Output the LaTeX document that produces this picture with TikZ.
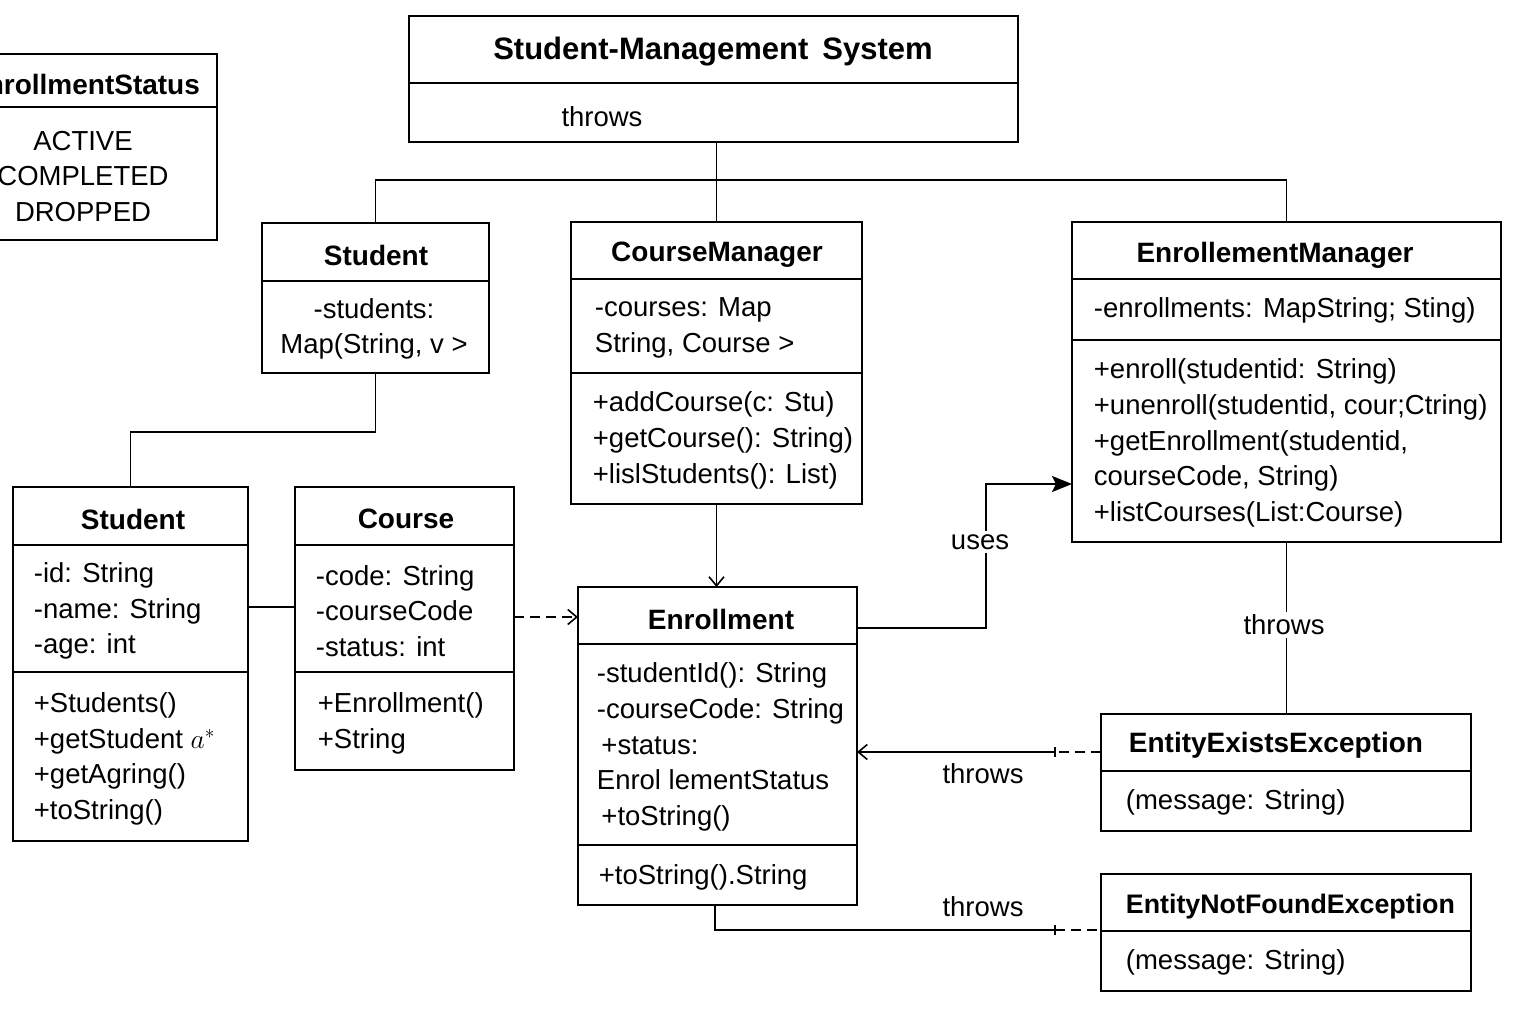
\RequirePackage{fix-cm}
\documentclass[tikz,border=0pt]{standalone}
\usepackage{fontspec}
\setmainfont{Liberation Sans}
\usetikzlibrary{arrows.meta}
\begin{document}
\begin{tikzpicture}[x=1pt,y=-1pt, line width=1.8pt,
 box/.style={draw, anchor=north west, inner sep=0pt, outer sep=0pt, line width=1.8pt},
 txt/.style={font=\fontsize{27.5}{35.7}\selectfont, inner sep=0pt, align=left, anchor=west, yshift=-2.5pt},
 ctxt/.style={font=\fontsize{27.5}{35.7}\selectfont, inner sep=0pt, align=center, yshift=-2.5pt},
 ttl/.style={font=\fontsize{28}{34}\selectfont\bfseries, inner sep=0pt, yshift=-3pt},
 conn/.style={draw, line width=1.8pt},
 dsh/.style={conn, dash pattern=on 10pt off 6pt},
 openarr/.style={-{Straight Barb[length=9pt,width=15pt,line width=1.6pt]}},
 fillarr/.style={-{Stealth[length=20pt,width=16pt,inset=4pt]}},
 lbl/.style={font=\fontsize{27.5}{33}\selectfont, fill=white, inner sep=3pt, yshift=-2pt}
]
\useasboundingbox (0,0) rectangle (1536,1024);
\fill[white] (0,0) rectangle (1536,1024);
\clip (0,0) rectangle (1536,1024);

% ---------- boxes ----------
\node[box, minimum width=609pt, minimum height=126pt] (sms) at (409,16) {};
\draw (409,83) -- (1018,83);
\node[font=\fontsize{31}{36}\selectfont\bfseries, inner sep=0pt, yshift=-3pt] (smsT) at (713,49) {Student-Management\hspace{0.45em}System};
\node[ctxt] (smsB) at (602,114) {throws};

\node[box, minimum width=268pt, minimum height=186pt] (es) at (-51,54) {};
\draw (-51,107) -- (217,107);
\node[ttl] (esT) at (84,81) {EnrollmentStatus};
\node[ctxt] (esB) at (83,174) {ACTIVE\\COMPLETED\\DROPPED};

\node[box, minimum width=227pt, minimum height=150pt] (st1) at (262,223) {};
\draw (262,281) -- (489,281);
\node[ttl] (st1T) at (376,252) {Student};
\node[ctxt] (st1B) at (374,326.5) {-students:\\Map(String, v >};

\node[box, minimum width=291pt, minimum height=282pt] (cm) at (571,222) {};
\draw (571,279) -- (862,279);
\draw (571,373) -- (862,373);
\node[ttl] (cmT) at (717,252) {CourseManager};
\node[txt] (cmA) at (594,325.5) {-courses: Map\\String, Course >};
\node[txt] (cmM) at (592,438) {+addCourse(c: Stu)\\+getCourse(): String)\\+lislStudents(): List)};

\node[box, minimum width=429pt, minimum height=320pt] (em) at (1072,222) {};
\draw (1072,279) -- (1501,279);
\draw (1072,340) -- (1501,340);
\node[ttl] (emT) at (1275,252) {EnrollementManager};
\node[txt] (emA) at (1093,308) {-enrollments: MapString; Sting)};
\node[txt] (emM) at (1093,440.5) {+enroll(studentid: String)\\+unenroll(studentid, cour;Ctring)\\+getEnrollment(studentid,\\courseCode, String)\\+listCourses(List:Course)};

\node[box, minimum width=235pt, minimum height=354pt] (st2) at (13,487) {};
\draw (13,545) -- (248,545);
\draw (13,672) -- (248,672);
\node[ttl] (st2T) at (133,516) {Student};
\node[txt] (st2A) at (33,608.5) {-id: String\\-name: String\\-age: int};
\node[txt] (st2M) at (33,756.5) {+Students()\\+getStudent $a^{*}$\\+getAgring()\\+toString()};

\node[box, minimum width=219pt, minimum height=283pt] (co) at (295,487) {};
\draw (295,545) -- (514,545);
\draw (295,672) -- (514,672);
\node[ttl] (coT) at (406,516) {Course};
\node[txt] (coA) at (315,608.5) {-code: String\\-courseCode\\-status: int};
\node[txt] (coM) at (317,721) {+Enrollment()\\+String};

\node[box, minimum width=279pt, minimum height=318pt] (en) at (578,587) {};
\draw (578,644) -- (857,644);
\draw (578,845) -- (857,845);
\node[ttl] (enT) at (721,616) {Enrollment};
\node[txt] (enA) at (596,744.5) {-studentId(): String\\-courseCode: String\\\,+status:\\Enrol lementStatus\\\,+toString()};
\node[txt] (enM) at (598,875) {+toString().String};

\node[box, minimum width=370pt, minimum height=117pt] (eee) at (1101,714) {};
\draw (1101,771) -- (1471,771);
\node[ttl, anchor=west] (eeeT) at (1128,742) {EntityExistsException};
\node[txt] (eeeB) at (1125,800) {(message: String)};

\node[box, minimum width=370pt, minimum height=117pt] (enf) at (1101,874) {};
\draw (1101,931) -- (1471,931);
\node[ttl, anchor=west, font=\fontsize{26.8}{34}\selectfont\bfseries] (enfT) at (1125,904) {EntityNotFoundException};
\node[txt] (enfB) at (1125,960) {(message: String)};

% ---------- connectors ----------
\coordinate (bus) at (716.5,180);
\draw[conn] (sms.south -| bus) -- (bus);
\draw[conn] (st1.north) |- (bus) -| (em.north);
\draw[conn] (bus) -- (cm.north);

\coordinate (k1) at (130.5,432);
\draw[conn] (st1.south) |- (k1) -- (st2.north);

\coordinate (k2) at (0,607);
\draw[conn] (st2.east |- k2) -- (co.west |- k2);

\coordinate (k3) at (0,617);
\draw[dsh, openarr] (co.east |- k3) -- (en.west |- k3);

\draw[conn, openarr] (cm.south) -- (en.north -| cm.south);

\coordinate (u0) at (0,628);
\coordinate (u1) at (986,484);
\draw[conn, fillarr] (en.east |- u0) -| (u1) -- (em.west |- u1);
\node[lbl] (usesL) at (980,540) {uses};

\draw[conn] (em.south) -- (eee.north -| em.south);
\node[lbl] (thr1) at (1284,623) {throws};

\coordinate (t1) at (1055,752);
\draw[dsh] (eee.west |- t1) -- (t1);
\draw[conn, openarr] (t1) -- (en.east |- t1);
\draw[line width=1.2pt] (1055,747) -- (1055,757);
\node[ctxt] (thr2) at (983,771) {throws};

\coordinate (t2) at (1055,930);
\coordinate (t3) at (715,905);
\draw[conn] (t3) |- (t2);
\draw[dsh] (t2) -- (enf.west |- t2);
\draw[line width=1.2pt] (1055,925) -- (1055,935);
\node[ctxt] (thr3) at (983,904) {throws};
\end{tikzpicture}
\end{document}
